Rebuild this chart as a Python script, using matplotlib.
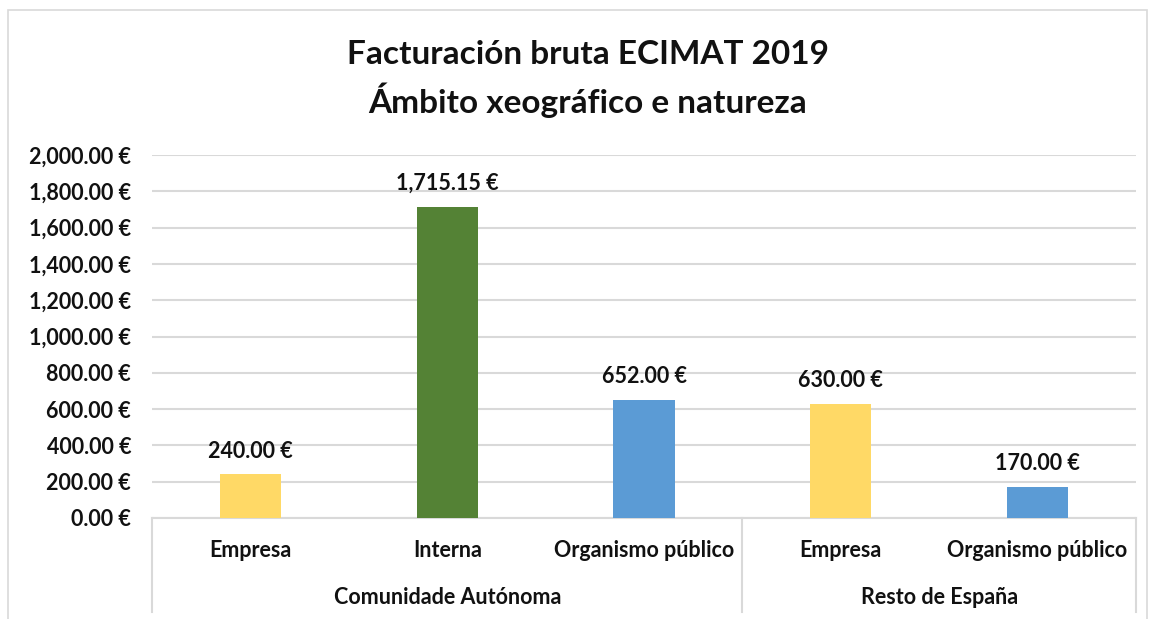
import matplotlib.pyplot as plt
from matplotlib.patches import Rectangle

# datos
subcats = ["Empresa", "Interna", "Organismo público", "Empresa", "Organismo público"]
groups = ["Comunidade Autónoma", "Resto de España"]
group_sizes = [3, 2]
values = [240.00, 1715.15, 652.00, 630.00, 170.00]
colors = ["#FFD966", "#548235", "#5B9BD5", "#FFD966", "#5B9BD5"]

plt.rcParams['font.family'] = ['Lato', 'DejaVu Sans']
plt.rcParams['font.weight'] = 'bold'

fig = plt.figure(figsize=(11.51, 6.19), dpi=100)
W, H = 1151, 619
# área del gráfico en píxeles
x0, x1 = 152, 1136
y0, y1 = 518, 155
ax = fig.add_axes([x0 / W, 1 - y0 / H, (x1 - x0) / W, (y0 - y1) / H])

# borde del gráfico
fig.patches.append(Rectangle((8 / W, -0.1), (1147 - 8) / W, 1.1 - 10 / H,
                             transform=fig.transFigure, fill=False,
                             edgecolor="#D9D9D9", linewidth=1.2))

fs = 15.5
tc = "#111111"
n = len(values)
xs = list(range(n))
ax.bar(xs, values, width=0.31, color=colors, zorder=3)
for x, v in zip(xs, values):
    ax.text(x, v + 70, f"{v:,.2f} €", ha="center", va="bottom",
            fontsize=fs, fontweight="bold", color=tc)

ax.set_xlim(-0.5, n - 0.5)
ax.set_ylim(0, 2000)
ax.set_yticks(range(0, 2001, 200))
ax.set_yticklabels([f"{t:,.2f} €" for t in range(0, 2001, 200)],
                   fontsize=fs, fontweight="bold", color=tc)
ax.tick_params(axis="y", length=0, pad=15)
ax.set_xticks([])
ax.grid(axis="y", color="#D9D9D9", linewidth=1.5, zorder=0)
for s in ["top", "right", "left"]:
    ax.spines[s].set_visible(False)
ax.spines["bottom"].set_color("#D9D9D9")
ax.spines["bottom"].set_linewidth(1.5)

# etiquetas de categoría en dos niveles
for x, lab in zip(xs, subcats):
    ax.text(x, -0.09, lab, transform=ax.get_xaxis_transform(), ha="center",
            va="center", fontsize=fs, fontweight="bold", color=tc)

start = 0
bounds = [-0.5]
for g, sz in zip(groups, group_sizes):
    mid = start + (sz - 1) / 2
    ax.text(mid, -0.22, g, transform=ax.get_xaxis_transform(), ha="center",
            va="center", fontsize=fs, fontweight="bold", color=tc)
    start += sz
    bounds.append(start - 0.5)
for b in bounds:
    ax.plot([b, b], [0, -0.26], transform=ax.get_xaxis_transform(),
            color="#D9D9D9", linewidth=1.5, clip_on=False)

fig.text(588 / W, 1 - 55 / H, "Facturación bruta ECIMAT 2019", ha="center",
         va="center", fontsize=24, fontweight="bold", color=tc)
fig.text(588 / W, 1 - 100 / H, "Ámbito xeográfico e natureza", ha="center",
         va="center", fontsize=24, fontweight="bold", color=tc)

fig.savefig("out.png", dpi=100, facecolor="white")
